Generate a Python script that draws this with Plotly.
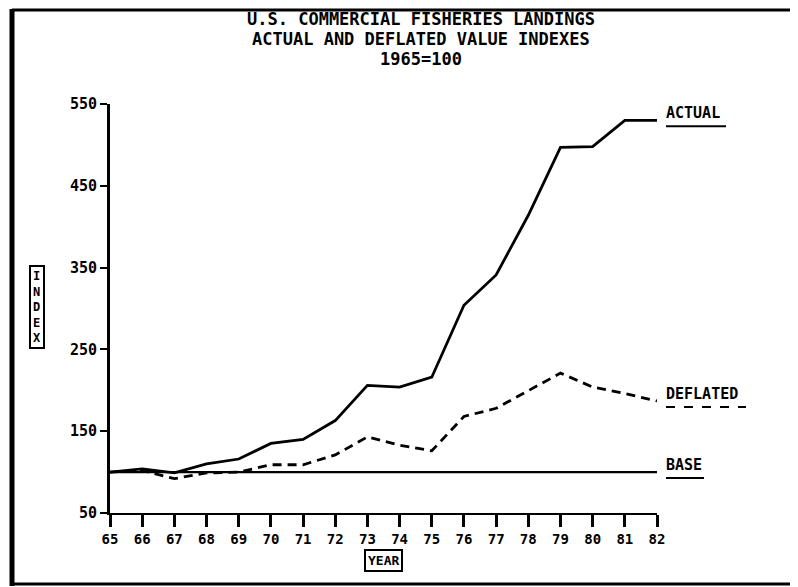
import plotly.graph_objects as go

years = [65, 66, 67, 68, 69, 70, 71, 72, 73, 74, 75, 76, 77, 78, 79, 80, 81, 82]
year_labels = ["65", "66", "67", "68", "69", "70", "71", "72", "73", "74",
               "75", "76", "77", "78", "79", "80", "81", "82"]
actual = [100, 104, 99, 110, 116, 135, 140, 163, 206, 204, 216, 304, 341, 414, 497, 498, 530, 530]
deflated = [100, 102, 92, 99, 100, 109, 109, 121, 143, 133, 126, 168, 178, 200, 221, 204, 196, 187]
base = [100, 100, 100, 100, 100, 100, 100, 100, 100, 100, 100, 100, 100, 100, 100, 100, 100, 100]
y_ticks = [50, 150, 250, 350, 450, 550]
y_tick_labels = ["50", "150", "250", "350", "450", "550"]
title_lines = ["U.S. COMMERCIAL FISHERIES LANDINGS",
               "ACTUAL AND DEFLATED VALUE INDEXES",
               "1965=100"]

# page geometry (the page body adds an 8px offset)
OFF = 8
PAGE_W, PAGE_H = 798, 587
FW, FH = PAGE_W - OFF, PAGE_H - OFF
X0, X1, Y0, Y1 = 110, 657, 104, 513
PW, PH = X1 - X0, Y1 - Y0
FONT = "DejaVu Sans Mono"


def px(x):
    return (x - X0) / PW


def py(y):
    return (Y1 - y) / PH


fig = go.Figure()
fig.add_trace(go.Scatter(x=years, y=base, mode="lines",
                         line=dict(color="black", width=2.4), cliponaxis=False,
                         showlegend=False))
fig.add_trace(go.Scatter(x=years, y=deflated, mode="lines",
                         line=dict(color="black", width=2.8, dash="9px,6px"),
                         cliponaxis=False, showlegend=False))
fig.add_trace(go.Scatter(x=years, y=actual, mode="lines",
                         line=dict(color="black", width=2.8), cliponaxis=False,
                         showlegend=False))

ann = []
for line, yc in zip(title_lines, [19, 39, 59]):
    ann.append(dict(text="<b>%s</b>" % line, xref="paper", yref="paper", x=px(421), y=py(yc),
                    xanchor="center", yanchor="middle", showarrow=False,
                    font=dict(family=FONT, size=17, color="black")))
labels = [("ACTUAL", actual[-1], "solid", 60), ("DEFLATED", deflated[-1], "dash", 80),
          ("BASE", base[-1], "solid", 38)]
for name, val, dsh, wdt in labels:
    ann.append(dict(text="<b>%s</b>" % name, xref="paper", yref="y", x=px(664), y=val,
                    xanchor="left", yanchor="bottom", yshift=-4, showarrow=False,
                    font=dict(family=FONT, size=15, color="black")))
ann.append(dict(text="<b>I<br>N<br>D<br>E<br>X</b>", xref="paper", yref="paper",
                x=px(37), y=py(307), xanchor="center", yanchor="middle", showarrow=False,
                bordercolor="black", borderwidth=2, borderpad=2,
                font=dict(family=FONT, size=12, color="black")))
ann.append(dict(text="<b>YEAR</b>", xref="paper", yref="paper",
                x=px(383), y=py(560), xanchor="center", yanchor="middle", showarrow=False,
                bordercolor="black", borderwidth=2, borderpad=2,
                font=dict(family=FONT, size=13, color="black")))

shapes = []
# outer frame
shapes.append(dict(type="line", xref="paper", yref="paper", x0=px(12), x1=px(12), y0=py(586), y1=py(9),
                   line=dict(color="black", width=5)))
shapes.append(dict(type="line", xref="paper", yref="paper", x0=px(12), x1=px(796), y0=py(10), y1=py(10),
                   line=dict(color="black", width=3)))
shapes.append(dict(type="line", xref="paper", yref="paper", x0=px(12), x1=px(796), y0=py(584), y1=py(584),
                   line=dict(color="black", width=3)))
shapes.append(dict(type="line", xref="paper", yref="paper", x0=px(795), x1=px(795), y0=py(584), y1=py(10),
                   line=dict(color="black", width=2)))
# label underlines
for (name, val, dsh, wdt) in labels:
    shapes.append(dict(type="line", xref="paper", yref="y", ysizemode="pixel", yanchor=val,
                       x0=px(666), x1=px(666 + wdt), y0=-6, y1=-6,
                       line=dict(color="black", width=2, dash=dsh)))

fig.update_layout(
    width=FW, height=FH,
    margin=dict(l=X0 - OFF, r=PAGE_W - X1, t=Y0 - OFF, b=PAGE_H - Y1, pad=0),
    paper_bgcolor="white", plot_bgcolor="white",
    annotations=ann, shapes=shapes,
    xaxis=dict(range=[65, 82], tickmode="array", tickvals=years, ticktext=year_labels,
               showgrid=False, zeroline=False, showline=True, linecolor="black", linewidth=2,
               ticks="outside", ticklen=12, tickwidth=3, tickcolor="black",
               tickfont=dict(family=FONT, size=14, color="black", weight="bold")),
    yaxis=dict(range=[50, 550], tickmode="array", tickvals=y_ticks, ticktext=y_tick_labels,
               showgrid=False, zeroline=False, showline=True, linecolor="black", linewidth=3,
               ticks="outside", ticklen=7, tickwidth=2, tickcolor="black",
               tickfont=dict(family=FONT, size=15, color="black", weight="bold")),
)

fig.write_html("out.html")
